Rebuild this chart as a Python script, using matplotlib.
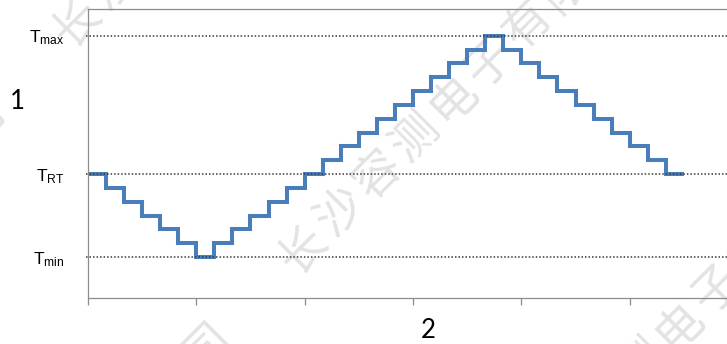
import numpy as np
import matplotlib
matplotlib.use("Agg")
import matplotlib.pyplot as plt

# temperature level held during each time step (T_min = 0, T_RT = 6, T_max = 16)
levels = [6, 5, 4, 3, 2, 1, 0, 1, 2, 3, 4, 5, 6, 7, 8, 9, 10, 11,
          12, 13, 14, 15, 16, 15, 14, 13, 12, 11, 10, 9, 8, 7, 6]
ref_levels = [0, 6, 16]
ref_labels = [r"$\mathrm{T}_{\mathrm{min}}$", r"$\mathrm{T}_{\mathrm{RT}}$",
              r"$\mathrm{T}_{\mathrm{max}}$"]
x_ticks = [0, 6, 12, 18, 24, 30, 36]
y_title = "1"
x_title = "2"
watermark = "长沙容测电子有限公司"

plt.rcParams["mathtext.fontset"] = "custom"
plt.rcParams["mathtext.rm"] = "Liberation Sans"
plt.rcParams["mathtext.it"] = "Liberation Sans:italic"

W, H = 727, 344
fig = plt.figure(figsize=(W / 100, H / 100), dpi=100)

# tiled diagonal watermark, one glyph at a time
u = np.array([np.cos(np.pi / 4), np.sin(np.pi / 4)])
v = np.array([np.cos(np.pi / 4), -np.sin(np.pi / 4)])
origin = np.array([303.0, 94.0])
for m in range(-2, 3):
    for n in range(-2, 3):
        start = origin + m * 320 * v + n * 613 * u
        for k, ch in enumerate(watermark):
            px, py = start + k * 53 * u
            if -60 < px < W + 60 and -60 < py < H + 60:
                fig.text(px / W, py / H, ch, fontsize=34, rotation=45,
                         color="#e3e3e3", ha="center", va="center",
                         family="Noto Sans CJK SC", zorder=-5)

ax = fig.add_axes([88 / W, 46 / H, 650 / W, 289 / H])
ax.patch.set_alpha(0)

edges = np.arange(len(levels) + 1)
ax.stairs(levels, edges, baseline=None, color="#4a7ebb", linewidth=2.9,
          zorder=2)

for lv in ref_levels:
    ax.hlines(lv, -0.12, 40, colors="#3a3a3a", linestyles=(0, (1, 1.3)),
              linewidth=1.1, clip_on=False, zorder=3)

ax.set_xlim(0, 36)
ax.set_ylim(-2.96, 17.93)

for side in ["left", "bottom", "top", "right"]:
    ax.spines[side].set_color("#8c8c8c")
    ax.spines[side].set_linewidth(0.9)

ax.set_xticks(x_ticks)
ax.set_xticklabels([])
ax.tick_params(axis="x", direction="out", length=5, width=0.9,
               color="#8c8c8c")
ax.set_yticks(ref_levels)
ax.set_yticklabels(ref_labels, fontsize=12.5, family="Liberation Sans")
ax.tick_params(axis="y", length=0, pad=17)

fig.text(17.5 / W, 1 - 101.5 / H, y_title, fontsize=18.5, family="Lato",
         ha="center", va="center")
fig.text(428.5 / W, 1 - 331 / H, x_title, fontsize=18.5, family="Lato",
         ha="center", va="center")

fig.savefig("out.png", dpi=100)
